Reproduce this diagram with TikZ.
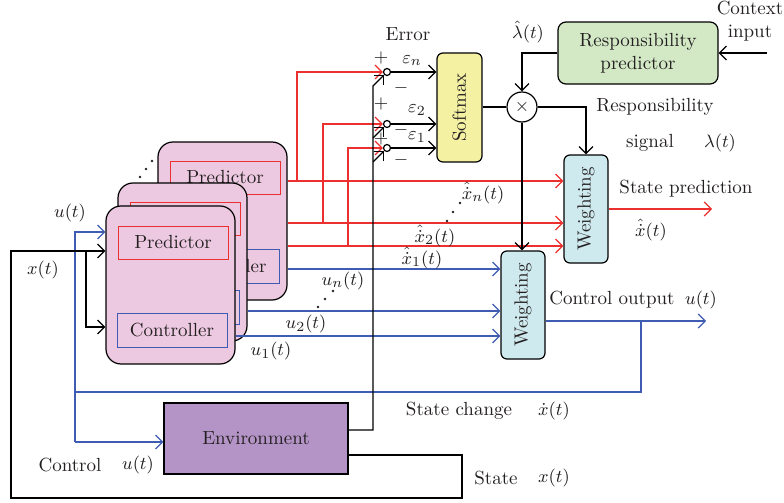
\documentclass[tikz,border=0pt]{standalone}
\usepackage{graphicx}
\usetikzlibrary{arrows.meta}
\definecolor{myred}{RGB}{236,48,48}
\definecolor{myblue}{RGB}{62,92,178}
\definecolor{pinkf}{RGB}{236,201,224}
\definecolor{yelf}{RGB}{245,241,163}
\definecolor{grnf}{RGB}{211,233,198}
\definecolor{cyanf}{RGB}{207,234,238}
\definecolor{purpf}{RGB}{180,148,198}
\definecolor{txt}{RGB}{35,31,32}
\begin{document}
\begin{tikzpicture}[x=0.5pt,y=-0.5pt,line width=0.6pt,
  font=\fontsize{9.5}{11.5}\selectfont, text=txt,
  arr/.style={-{Straight Barb[length=3.5pt,width=7pt]}},
  module/.style={draw,fill=pinkf,rounded corners=7.5pt,minimum width=64.5pt,minimum height=79pt,inner sep=0pt},
  predbox/.style={draw=myred,line width=0.5pt,minimum width=55pt,minimum height=16.5pt,inner sep=0pt},
  ctrlbox/.style={draw=myblue,line width=0.5pt,minimum width=55pt,minimum height=17pt,inner sep=0pt},
  wbox/.style={draw,fill=cyanf,rounded corners=3pt,minimum width=22pt,minimum height=54pt,inner sep=0pt},
  junc/.style={draw,circle,fill=white,minimum size=3.5pt,inner sep=0pt},
  lbl/.style={inner sep=0pt},
  dotm/.style={fill=txt,draw=none}
]
\useasboundingbox (0,0) rectangle (784,503);

% ---------- modules (back to front) ----------
\node[module] (mn) at (222.5,221) {};
\node[predbox] (pn) at (225,177.5) {Predictor};
\node[ctrlbox] (cn) at (224.5,266) {Controller};
\node[module] (m2) at (182.5,262) {};
\node[predbox] (p2) at (185,218.5) {Predictor};
\node[ctrlbox] (c2) at (184.5,307) {Controller};
\node[module] (m1) at (170.5,285) {};
\node[predbox] (p1) at (173,242.5) {Predictor};
\node[ctrlbox] (c1) at (172,330) {Controller};
\fill[dotm] (140,177) circle[radius=0.7pt] (146,169) circle[radius=0.7pt] (152,161) circle[radius=0.7pt];

% ---------- other blocks ----------
\node[draw,fill=yelf,rounded corners=3pt,minimum width=22.5pt,minimum height=54.5pt,inner sep=0pt] (sm) at (459.5,107.5) {\rotatebox{90}{Softmax}};
\node[draw,circle,minimum size=15pt,inner sep=0pt,fill=white] (mul) at (522,107) {$\times$};
\node[draw,fill=grnf,rounded corners=4pt,minimum width=80pt,minimum height=31pt,align=center,inner sep=0pt] (rp) at (638,53) {Responsibility\\predictor};
\node[wbox] (w1) at (586,209) {\rotatebox{90}{Weighting}};
\node[wbox] (w2) at (523,305) {\rotatebox{90}{Weighting}};
\node[draw,fill=purpf,minimum width=92pt,minimum height=35.5pt,inner sep=0pt] (env) at (256,438.5) {Environment};

\node[junc] (en) at (387,72) {};
\node[junc] (e2) at (387,124) {};
\node[junc] (e1) at (387,148) {};

% ---------- helper coordinates ----------
\coordinate (yR1) at (0,181);
\coordinate (yR2) at (0,223);
\coordinate (yR3) at (0,246);
\coordinate (yB1) at (0,269);
\coordinate (yB2) at (0,311);
\coordinate (yB3) at (0,336);
\coordinate (br1) at (297,181);
\coordinate (br2) at (323,223);
\coordinate (br3) at (348,246);
\coordinate (fb) at (373,430);
\coordinate (fbn) at (373,86);
\coordinate (fb2) at (373,138);
\coordinate (fb1) at (373,162);
\coordinate (ctx) at (767,53);
\coordinate (sp) at (712,209);
\coordinate (co) at (706,321);
\coordinate (ybr) at (0,321);
\coordinate (cobr) at (641,321);
\coordinate (ub) at (641,392);
\coordinate (ul) at (75,392);
\coordinate (utop) at (75,232);
\coordinate (ubot) at (75,442);
\coordinate (xs) at (0,455);
\coordinate (xr) at (462,455);
\coordinate (xrb) at (462,498);
\coordinate (xlb) at (11,498);
\coordinate (xlt) at (11,251);
\coordinate (xbr) at (86,251);
\coordinate (cin) at (0,327);
\coordinate (mjn) at (585,107);

% ---------- red predictions ----------
\draw[myred,arr] (mn.east |- yR1) -- (w1.west |- yR1);
\draw[myred,arr] (mn.east |- yR2) -- (w1.west |- yR2);
\draw[myred,arr] (mn.east |- yR3) -- (w1.west |- yR3);
\draw[myred,arr] (br1) |- (en.west);
\draw[myred,arr] (br2) |- (e2.west);
\draw[myred,arr] (br3) |- (e1.west);
\draw[myred,arr] (w1.east) -- (sp);

% ---------- blue controls ----------
\draw[myblue,arr] (mn.east |- yB1) -- (w2.west |- yB1);
\draw[myblue,arr] (m2.east |- yB2) -- (w2.west |- yB2);
\draw[myblue,arr] (m1.east |- yB3) -- (w2.west |- yB3);
\draw[myblue,arr] (w2.east |- ybr) -- (co);
\draw[myblue] (cobr) -- (ub) -- (ul);
\draw[myblue,arr] (ubot) -- (utop) -- (m1.west |- utop);
\draw[myblue,arr] (ubot) -- (env.west |- ubot);

% ---------- black lines ----------
\draw[arr] (env.east |- fb) -- (fb) -- (fbn) -- (en.south west);
\draw[arr] (fb2) -- (e2.south west);
\draw[arr] (fb1) -- (e1.south west);
\draw[arr] (en.east) -- (en.east -| sm.west);
\draw[arr] (e2.east) -- (e2.east -| sm.west);
\draw[arr] (e1.east) -- (e1.east -| sm.west);
\draw (sm.east |- mul.west) -- (mul.west);
\draw[arr] (rp.west) -| (mul.north);
\draw[arr] (ctx) -- (rp.east);
\draw[arr] (mul.east) -| (w1.north);
\draw[arr] (mul.south) -- (mul.south |- w2.north);
\draw[arr] (env.east |- xs) -- (xr) -- (xrb) -- (xlb) -- (xlt) -- (m1.west |- xlt);
\draw[arr] (xbr) |- (m1.west |- cin);

% ---------- labels ----------
\node[lbl] (lerr) at (408,34) {Error};
\node[lbl] (pl1) at (381,58) {$+$};
\node[lbl] (pl2) at (381,104) {$+$};
\node[lbl] (pl3) at (381,139) {$+$};
\node[lbl] (mi1) at (401,88) {$-$};
\node[lbl] (mi2) at (401,130) {$-$};
\node[lbl] (mi3) at (401,160) {$-$};
\node[lbl] (len) at (412,61) {$\varepsilon_n$};
\node[lbl] (le2) at (417,110) {$\varepsilon_2$};
\node[lbl] (le1) at (417,137) {$\varepsilon_1$};
\node[lbl] (llh) at (528,32) {$\hat{\lambda}(t)$};
\node[lbl,align=center] (lctx) at (750,21) {Context\\input};
\node[lbl] (lrs) at (655,107) {Responsibility};
\node[lbl] (lsig) at (650,143) {signal};
\node[lbl] (llam) at (720,143) {$\lambda(t)$};
\node[lbl] (lsp) at (686,189) {State prediction};
\node[lbl] (lxh) at (651,230) {$\hat{\dot{x}}(t)$};
\node[lbl] (lco) at (612,300) {Control output};
\node[lbl] (lcu) at (701,300) {$u(t)$};
\node[lbl] (lxn) at (483,193) {$\hat{\dot{x}}_n(t)$};
\node[lbl] (lx2) at (435,236) {$\hat{\dot{x}}_2(t)$};
\node[lbl] (lx1) at (422,258) {$\hat{\dot{x}}_1(t)$};
\fill[dotm] (447,221) circle[radius=0.7pt] (453,212) circle[radius=0.7pt] (460,203) circle[radius=0.7pt];
\node[lbl] (lun) at (343,281) {$u_n(t)$};
\node[lbl] (lu2) at (306,324) {$u_2(t)$};
\node[lbl] (lu1) at (271,351) {$u_1(t)$};
\fill[dotm] (318,307) circle[radius=0.7pt] (325,299) circle[radius=0.7pt] (333,291) circle[radius=0.7pt];
\node[lbl] (lut) at (70,213) {$u(t)$};
\node[lbl] (lxt) at (43,270) {$x(t)$};
\node[lbl] (lsc) at (459,411) {State change};
\node[lbl] (lxd) at (554,411) {$\dot{x}(t)$};
\node[lbl] (lst) at (496,478) {State};
\node[lbl] (lxs) at (554,478) {$x(t)$};
\node[lbl] (lctl) at (70,465) {Control};
\node[lbl] (lcu2) at (138,465) {$u(t)$};
\end{tikzpicture}
\end{document}
